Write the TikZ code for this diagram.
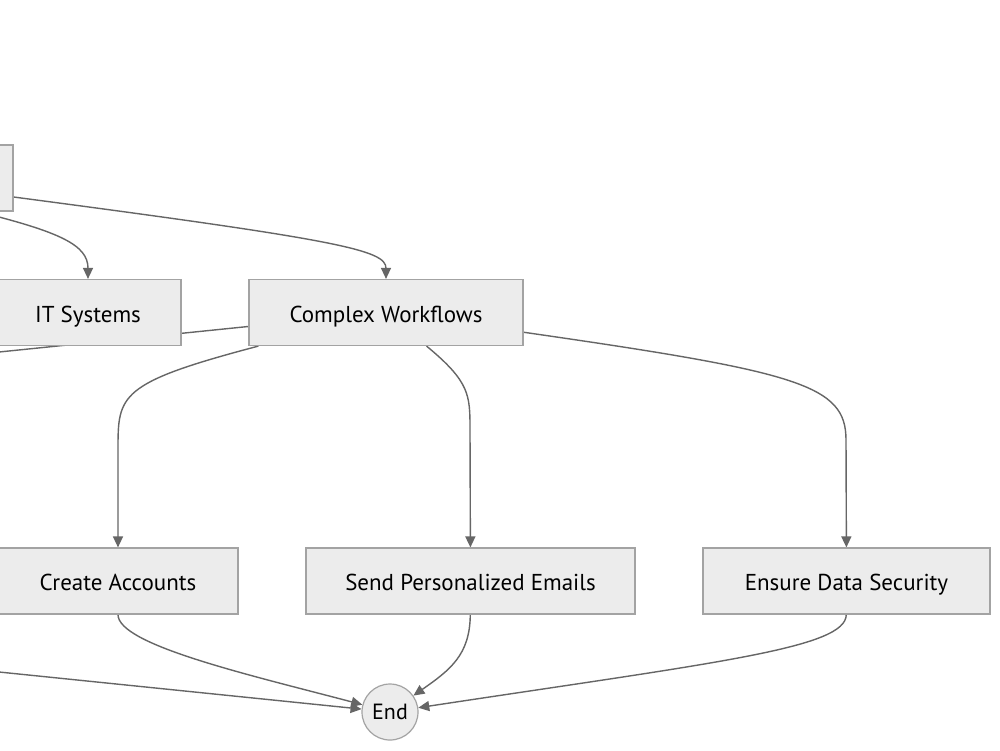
\documentclass[tikz,border=0pt]{standalone}
\usepackage{fontspec}
\setmainfont{PT Sans}
\usetikzlibrary{arrows.meta,backgrounds}
\definecolor{boxfill}{HTML}{ECECEC}
\definecolor{boxline}{HTML}{A3A3A3}
\definecolor{edgeline}{HTML}{666666}

\begin{document}
\begin{tikzpicture}[x=1pt,y=-1pt,
    box/.style={draw=boxline,fill=boxfill,line width=1.2pt,minimum height=66pt,inner sep=0pt,text height=24pt,text depth=5pt,font=\fontsize{23}{27}\selectfont},
    endnode/.style={circle,draw=boxline,fill=boxfill,line width=1.2pt,minimum size=56pt,inner sep=0pt,font=\fontsize{22}{26}\selectfont},
    edge/.style={draw=edgeline,line width=1.4pt,-{Triangle[length=11pt,width=10pt]}}]
  \useasboundingbox (0,0) rectangle (1000,750);

  \node[box,minimum width=200pt] (start) at (-87,178) {};
  \node[box,minimum width=186pt] (it) at (88,312.5) {IT Systems};
  \node[box,minimum width=274pt] (complex) at (386,312.5) {Complex Workflows};
  \node[box,minimum width=240pt] (create) at (118,581) {Create Accounts};
  \node[box,minimum width=329pt] (send) at (470.5,581) {Send Personalized Emails};
  \node[box,minimum width=287pt] (secure) at (846.5,581) {Ensure Data Security};
  \node[endnode] (end) at (390,712) {End};
  \coordinate (offA) at (-40,356);
  \coordinate (offB) at (-40,668);

  \begin{scope}[on background layer]
    \fill[white] (0,0) rectangle (1000,750);
    \draw[edge] ([xshift=65pt]start.south) .. controls (60,232) and (88,245) .. (it.north);
    \draw[edge] ([yshift=-19pt]start.east) .. controls (340,240) and (386,250) .. (complex.north);
    \draw[edge] (complex) -- (offA);
    \draw[edge] (complex) .. controls (118,383) and (118,395) .. (118,450) -- (create);
    \draw[edge] (complex) .. controls (470,382) and (470,395) .. (470,430) -- (send);
    \draw[edge] (complex) .. controls (800,372) and (846,385) .. (846,440) -- (secure);
    \draw[edge] (create) .. controls (118,645) and (250,675) .. (end);
    \draw[edge] (send) .. controls (470,655) and (450,670) .. (end);
    \draw[edge] (secure) .. controls (846,648) and (720,662) .. (end);
    \draw[edge] (offB) -- (end);
  \end{scope}
\end{tikzpicture}
\end{document}
